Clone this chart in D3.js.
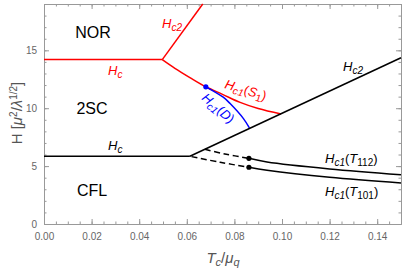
<!DOCTYPE html>
<html>
<head>
<meta charset="utf-8">
<script src="https://cdn.jsdelivr.net/npm/d3@7"></script>
<style>
  body { margin: 0; background: #fff; }
  svg { display: block; font-family: "Liberation Sans", Arial, sans-serif; }
  .axis path, .axis line { stroke: #999; }
  .axis text { fill: #666; font-size: 10px; }
</style>
</head>
<body>
<div id="chart"></div>
<script>
// phase boundaries, [Tc/mu_q, H]
const redHc = [[0, 14.2], [0.0497, 14.2]];
const redHc2 = [[0.0497, 14.2], [0.0667, 19]];
const redS1 = [[0.0497, 14.2], [0.055, 13.45], [0.0613, 12.65], [0.068, 11.85], [0.075, 11.2], [0.0824, 10.5], [0.09, 9.97], [0.0996, 9.5]];
const blueD = [[0.068, 11.85], [0.0753, 10.95], [0.0782, 10.4], [0.0838, 9.1], [0.0863, 8.3]];
const blackHc = [[0, 5.85], [0.0613, 5.85]];
const blackHc2 = [[0.0613, 5.85], [0.15, 14.36]];
const t112Dash = [[0.0676, 6.45], [0.076, 6.05], [0.0861, 5.67]];
const t101Dash = [[0.062, 5.82], [0.074, 5.33], [0.0861, 4.9]];
const t112 = [[0.0861, 5.67], [0.0937, 5.36], [0.12, 4.76], [0.15, 4.26]];
const t101 = [[0.0861, 4.9], [0.0937, 4.64], [0.12, 4.03], [0.15, 3.55]];
const blueDot = [[0.068, 11.85]];
const blackDots = [[0.0861, 5.67], [0.0861, 4.9]];

const xTicks = [0, 0.02, 0.04, 0.06, 0.08, 0.1, 0.12, 0.14];
const yTicks = [0, 5, 10, 15];

const width = 407, height = 272;
const svg = d3.select("#chart").append("svg")
    .attr("width", width)
    .attr("height", height);

const x = d3.scaleLinear().domain([0, 0.15]).range([44, 401]);
const y = d3.scaleLinear().domain([0, 19]).range([224, 4]);

const xMinor = d3.range(0, 0.1501, 0.005);
const yMinor = d3.range(0, 19.01, 1);

// ticks go inward
svg.append("g").attr("class", "axis")
    .attr("transform", `translate(0,${y(0)})`)
    .call(d3.axisBottom(x).tickValues(xMinor).tickSize(-2.5).tickFormat("").tickSizeOuter(0));
svg.append("g").attr("class", "axis")
    .attr("transform", `translate(0,${y(0)})`)
    .call(d3.axisBottom(x).tickValues(xTicks).tickSizeInner(-5).tickSizeOuter(0).tickPadding(9)
        .tickFormat(d3.format(".2f")));
svg.append("g").attr("class", "axis")
    .attr("transform", `translate(0,${y(19)})`)
    .call(d3.axisTop(x).tickValues(xMinor).tickSize(-2.5).tickFormat("").tickSizeOuter(0));
svg.append("g").attr("class", "axis")
    .attr("transform", `translate(0,${y(19)})`)
    .call(d3.axisTop(x).tickValues(xTicks).tickSize(-5).tickFormat("").tickSizeOuter(0));

svg.append("g").attr("class", "axis")
    .attr("transform", `translate(${x(0)},0)`)
    .call(d3.axisLeft(y).tickValues(yMinor).tickSize(-2.5).tickFormat("").tickSizeOuter(0));
svg.append("g").attr("class", "axis")
    .attr("transform", `translate(${x(0)},0)`)
    .call(d3.axisLeft(y).tickValues(yTicks).tickSizeInner(-5).tickSizeOuter(0).tickPadding(7));
svg.append("g").attr("class", "axis")
    .attr("transform", `translate(${x(0.15)},0)`)
    .call(d3.axisRight(y).tickValues(yMinor).tickSize(-2.5).tickFormat("").tickSizeOuter(0));
svg.append("g").attr("class", "axis")
    .attr("transform", `translate(${x(0.15)},0)`)
    .call(d3.axisRight(y).tickValues(yTicks).tickSize(-5).tickFormat("").tickSizeOuter(0));

const line = d3.line()
    .x(d => x(d[0]))
    .y(d => y(d[1]))
    .curve(d3.curveCatmullRom);

const curves = [
    { data: redHc, color: "#ff0000" },
    { data: redHc2, color: "#ff0000" },
    { data: redS1, color: "#ff0000" },
    { data: blueD, color: "#0000ff" },
    { data: blackHc, color: "#000" },
    { data: blackHc2, color: "#000" },
    { data: t112Dash, color: "#000", dash: "6,3.5" },
    { data: t101Dash, color: "#000", dash: "6,3.5" },
    { data: t112, color: "#000" },
    { data: t101, color: "#000" }
];

svg.append("g")
    .selectAll("path")
    .data(curves)
    .enter().append("path")
    .attr("d", d => line(d.data))
    .attr("fill", "none")
    .attr("stroke", d => d.color)
    .attr("stroke-width", 1.5)
    .attr("stroke-dasharray", d => d.dash || null);

svg.append("g").selectAll("circle")
    .data(blueDot)
    .enter().append("circle")
    .attr("cx", d => x(d[0])).attr("cy", d => y(d[1]))
    .attr("r", 2.6).attr("fill", "#0000ff");
svg.append("g").selectAll("circle")
    .data(blackDots)
    .enter().append("circle")
    .attr("cx", d => x(d[0])).attr("cy", d => y(d[1]))
    .attr("r", 2.6).attr("fill", "#000");

// phase names
const phases = [
    { t: "NOR", x: 93, y: 38 },
    { t: "2SC", x: 92, y: 114 },
    { t: "CFL", x: 92, y: 196 }
];
svg.append("g").selectAll("text")
    .data(phases)
    .enter().append("text")
    .attr("x", d => d.x).attr("y", d => d.y)
    .attr("text-anchor", "middle")
    .attr("font-size", 16)
    .text(d => d.t);

// math label: parts = [text, italic, sub]
function mathLabel(px, py, color, parts, rot) {
    const t = svg.append("text")
        .attr("transform", `translate(${px},${py}) rotate(${rot || 0})`)
        .attr("font-size", 13)
        .attr("fill", color);
    parts.forEach(p => {
        const s = t.append("tspan").text(p[0]);
        if (p[1]) s.attr("font-style", "italic");
        if (p[2]) s.attr("font-size", 10).attr("baseline-shift", -2.5);
    });
}

mathLabel(108, 75, "#ff0000", [["H", 1], ["c", 1, 1]]);
mathLabel(108, 150, "#000", [["H", 1], ["c", 1, 1]]);
mathLabel(162, 28, "#ff0000", [["H", 1], ["c2", 1, 1]]);
mathLabel(343, 71, "#000", [["H", 1], ["c2", 1, 1]]);
mathLabel(224, 88, "#ff0000", [["H", 1], ["c1", 1, 1], ["("], ["S", 1], ["1", 0, 1], [")"]], 17);
mathLabel(201, 99, "#0000ff", [["H", 1], ["c1", 1, 1], ["("], ["D", 1], [")"]], 41);
mathLabel(325, 163, "#000", [["H", 1], ["c1", 1, 1], ["("], ["T", 1], ["112", 0, 1], [")"]]);
mathLabel(325, 196, "#000", [["H", 1], ["c1", 1, 1], ["("], ["T", 1], ["101", 0, 1], [")"]]);

// axis titles
const xt = svg.append("text")
    .attr("x", 223).attr("y", 263)
    .attr("text-anchor", "middle")
    .attr("font-size", 15)
    .attr("fill", "#555");
xt.append("tspan").attr("font-style", "italic").text("T");
xt.append("tspan").attr("font-style", "italic").attr("font-size", 11).attr("baseline-shift", -3).text("c");
xt.append("tspan").text("/");
xt.append("tspan").attr("font-style", "italic").text("μ");
xt.append("tspan").attr("font-style", "italic").attr("font-size", 11).attr("baseline-shift", -3).text("q");

const yt = svg.append("text")
    .attr("transform", "translate(22,113) rotate(-90)")
    .attr("text-anchor", "middle")
    .attr("font-size", 15)
    .attr("fill", "#555");
yt.append("tspan").text("H [");
yt.append("tspan").attr("font-style", "italic").text("μ");
yt.append("tspan").attr("font-size", 10).attr("baseline-shift", 5).text("2");
yt.append("tspan").text("/");
yt.append("tspan").attr("font-style", "italic").text("λ");
yt.append("tspan").attr("font-size", 10).attr("baseline-shift", 5).text("1/2");
yt.append("tspan").text("]");
</script>
</body>
</html>
